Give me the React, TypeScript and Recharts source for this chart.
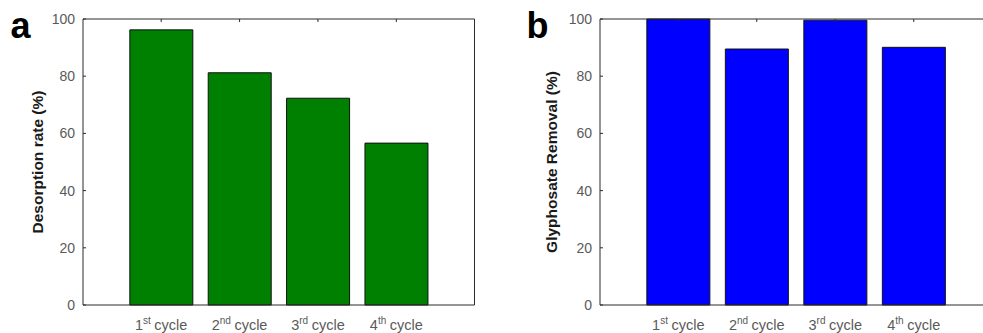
import React from "react";
import { Bar, BarChart, Label, XAxis, YAxis } from "recharts";

const cycleNumbers = ["1", "2", "3", "4"];
const cycleSuffixes = ["st", "nd", "rd", "th"];
const desorptionRate = [96.2, 81.2, 72.3, 56.6];
const glyphosateRemoval = [100, 89.5, 99.6, 90.1];
const yTicks = [0, 20, 40, 60, 80, 100];

const FONT = "'Liberation Sans', Arial, Helvetica, sans-serif";
const AXIS = "#2b2b2b";
const TICK_TEXT = "#5a5a5a";

const categories = cycleNumbers.map((n, i) => `${n}${cycleSuffixes[i]} cycle`);

const CycleTick = (props: any) => {
  const { x, y, payload } = props;
  const i = payload.index;
  return (
    <text x={x} y={y} dy={24.5} textAnchor="middle" fill={TICK_TEXT} fontSize={14.5} fontFamily={FONT}>
      <tspan>{cycleNumbers[i]}</tspan>
      <tspan dy={-5.5} fontSize={10}>{cycleSuffixes[i]}</tspan>
      <tspan dy={5.5} dx={3.5}>cycle</tspan>
    </text>
  );
};

const Empty = () => <g />;

interface PanelProps {
  letter: string;
  letterX: number;
  title: string;
  titleX: number;
  values: number[];
  fill: string;
  width: number;
  yWidth: number;
  right: number;
}

const Panel: React.FC<PanelProps> = ({ letter, letterX, title, titleX, values, fill, width, yWidth, right }) => {
  const data = categories.map((c, i) => ({ cycle: c, value: values[i] }));
  return (
    <BarChart
      width={width}
      height={333}
      data={data}
      // top axis / right axis get 1px of room, so the box still sits at y=19
      margin={{ top: 18, right: right - 1, bottom: 0, left: 0 }}
      barCategoryGap="10%"
      style={{ flexShrink: 0 }}
    >
      <XAxis
        xAxisId="bottom"
        dataKey="cycle"
        height={28}
        padding={{ left: 39, right: 39 }}
        axisLine={{ stroke: AXIS, strokeWidth: 1 }}
        tickLine={false}
        tickSize={0}
        tickMargin={0}
        tick={<CycleTick />}
        interval={0}
      />
      <XAxis
        xAxisId="top"
        orientation="top"
        dataKey="cycle"
        height={1}
        padding={{ left: 39, right: 39 }}
        axisLine={{ stroke: AXIS, strokeWidth: 1 }}
        tickLine={{ stroke: AXIS }}
        tickSize={-3}
        tick={<Empty />}
        interval={0}
      />
      <YAxis
        yAxisId="left"
        width={yWidth}
        domain={[0, 100]}
        ticks={yTicks}
        axisLine={{ stroke: AXIS, strokeWidth: 1 }}
        tickLine={{ stroke: AXIS }}
        tickSize={-3}
        tickMargin={11}
        tick={{ fill: TICK_TEXT, fontSize: 14, fontFamily: FONT }}
      >
        <Label
          content={(p: any) => {
            const vb = p.viewBox;
            const cy = vb.y + vb.height / 2;
            return (
              <g>
                <text
                  x={titleX}
                  y={cy}
                  transform={`rotate(-90, ${titleX}, ${cy})`}
                  textAnchor="middle"
                  fontSize={15.5}
                  fontWeight="bold"
                  fontFamily={FONT}
                  fill="#1a1a1a"
                >
                  {title}
                </text>
                <text x={letterX} y={38} fontSize={36} fontWeight="bold" fontFamily={FONT} fill="#000">
                  {letter}
                </text>
              </g>
            );
          }}
        />
      </YAxis>
      <YAxis
        yAxisId="right"
        orientation="right"
        width={1}
        domain={[0, 100]}
        ticks={yTicks}
        axisLine={{ stroke: AXIS, strokeWidth: 1 }}
        tickLine={{ stroke: AXIS }}
        tickSize={-3}
        tick={<Empty />}
      />
      <Bar
        xAxisId="bottom"
        yAxisId="left"
        dataKey="value"
        fill={fill}
        stroke="#111"
        strokeWidth={1}
        isAnimationActive={false}
      />
    </BarChart>
  );
};

export default function App() {
  return (
    <div
      style={{
        position: "absolute",
        left: 0,
        top: 0,
        width: 983,
        height: 333,
        overflow: "hidden",
        background: "#fff",
        display: "flex",
      }}
    >
      <Panel
        letter="a"
        letterX={10.5}
        title="Desorption rate (%)"
        titleX={43}
        values={desorptionRate}
        fill="#008000"
        width={490}
        yWidth={83}
        right={15.5}
      />
      <Panel
        letter="b"
        letterX={36.5}
        title="Glyphosate Removal (%)"
        titleX={67}
        values={glyphosateRemoval}
        fill="#0000ff"
        width={520}
        yWidth={110}
        right={18}
      />
    </div>
  );
}
